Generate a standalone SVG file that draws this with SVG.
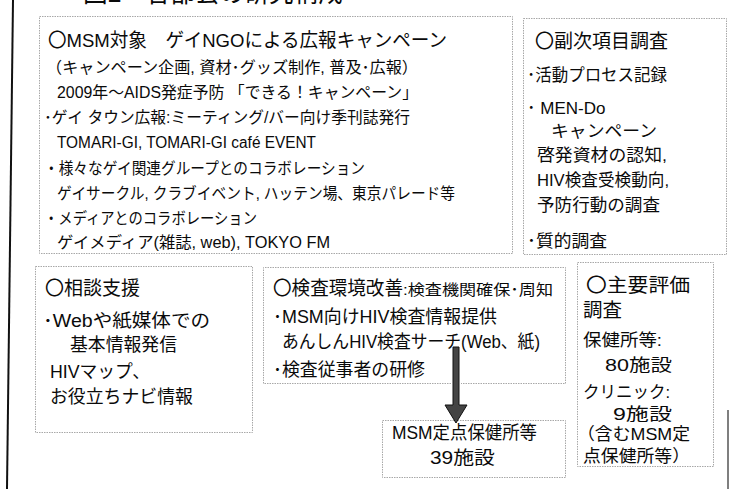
<svg xmlns="http://www.w3.org/2000/svg" width="730" height="489" viewBox="0 0 730 489">
<style>
.box{fill:none;stroke:#a8a8a8;stroke-width:1;stroke-dasharray:1.5 1}
.t{font-family:'Liberation Sans','Noto Sans CJK JP',sans-serif;fill:#0a0a0a}
.h{font-size:19px}
.s{font-size:16px}
.m{font-size:17px}
.l{font-size:18px}
.xs{font-size:15px}
</style>
<rect width="730" height="489" fill="#fff"/>
<g id="frame">
<line x1="13" y1="0" x2="7" y2="489" stroke="#111" stroke-width="2"/>
<line x1="728" y1="410" x2="728" y2="489" stroke="#555" stroke-width="1.5"/>
<text class="t" x="83" y="2" font-size="27" textLength="260" lengthAdjust="spacingAndGlyphs">図2　各部会の研究構成</text>
</g>
<g id="campaign">
<rect class="box" x="39.5" y="16.5" width="473" height="237"/>
<text class="t h" x="48" y="47" textLength="399" lengthAdjust="spacingAndGlyphs">〇MSM対象　ゲイNGOによる広報キャンペーン</text>
<text class="t s" x="46" y="73" textLength="372" lengthAdjust="spacingAndGlyphs">（キャンペーン企画, 資材･グッズ制作, 普及･広報）</text>
<text class="t s" x="57" y="98" textLength="361" lengthAdjust="spacingAndGlyphs">2009年～AIDS発症予防 「できる！キャンペーン」</text>
<text class="t s" x="44" y="123" textLength="366" lengthAdjust="spacingAndGlyphs">･ゲイ タウン広報:ミーティング/バー向け季刊誌発行</text>
<text class="t s" x="57" y="148" textLength="259" lengthAdjust="spacingAndGlyphs">TOMARI-GI, TOMARI-GI café EVENT</text>
<text class="t s" x="44" y="174" textLength="321" lengthAdjust="spacingAndGlyphs">・様々なゲイ関連グループとのコラボレーション</text>
<text class="t s" x="57" y="199" textLength="398" lengthAdjust="spacingAndGlyphs">ゲイサークル, クラブイベント, ハッテン場、東京パレード等</text>
<text class="t s" x="44" y="224" textLength="213" lengthAdjust="spacingAndGlyphs">・メディアとのコラボレーション</text>
<text class="t s" x="57" y="248" textLength="273" lengthAdjust="spacingAndGlyphs">ゲイメディア(雑誌, web), TOKYO FM</text>
</g>
<g id="secondary">
<rect class="box" x="523.5" y="18.5" width="203" height="236"/>
<text class="t h" x="535" y="48" textLength="133" lengthAdjust="spacingAndGlyphs">〇副次項目調査</text>
<text class="t m" x="527" y="81" textLength="140" lengthAdjust="spacingAndGlyphs">･活動プロセス記録</text>
<text class="t m" x="527" y="114">･ MEN-Do</text>
<text class="t m" x="551" y="137" textLength="106" lengthAdjust="spacingAndGlyphs">キャンペーン</text>
<text class="t m" x="537" y="161" textLength="130" lengthAdjust="spacingAndGlyphs">啓発資材の認知,</text>
<text class="t m" x="537" y="186" textLength="132" lengthAdjust="spacingAndGlyphs">HIV検査受検動向,</text>
<text class="t m" x="537" y="211" textLength="123" lengthAdjust="spacingAndGlyphs">予防行動の調査</text>
<text class="t m" x="527" y="247" textLength="80" lengthAdjust="spacingAndGlyphs">･質的調査</text>
</g>
<g id="consult">
<rect class="box" x="35.5" y="266.5" width="217" height="166"/>
<text class="t h" x="45" y="295" textLength="95" lengthAdjust="spacingAndGlyphs">〇相談支援</text>
<text class="t l" x="43" y="327" textLength="167" lengthAdjust="spacingAndGlyphs">･Webや紙媒体での</text>
<text class="t l" x="70" y="351" textLength="107" lengthAdjust="spacingAndGlyphs">基本情報発信</text>
<text class="t l" x="50" y="378" textLength="100" lengthAdjust="spacingAndGlyphs">HIVマップ、</text>
<text class="t l" x="50" y="403" textLength="143" lengthAdjust="spacingAndGlyphs">お役立ちナビ情報</text>
</g>
<g id="testing">
<path class="box" d="M263.5 383.5 V267.5 H565.5 V383.5 H461 M451 383.5 H263.5"/>
<text class="t h" x="273" y="295" textLength="130" lengthAdjust="spacingAndGlyphs">〇検査環境改善</text>
<text class="t xs" x="403" y="295" textLength="150" lengthAdjust="spacingAndGlyphs">:検査機関確保･周知</text>
<text class="t l" x="273" y="323" textLength="224" lengthAdjust="spacingAndGlyphs">･MSM向けHIV検査情報提供</text>
<text class="t l" x="282" y="348" textLength="258" lengthAdjust="spacingAndGlyphs">あんしんHIV検査サーチ(Web、紙)</text>
<text class="t l" x="273" y="376" textLength="152" lengthAdjust="spacingAndGlyphs">･検査従事者の研修</text>
</g>
<g id="main-eval">
<rect class="box" x="577.5" y="262.5" width="136" height="204"/>
<text class="t h" x="586" y="292" textLength="104" lengthAdjust="spacingAndGlyphs">〇主要評価</text>
<text class="t h" x="583" y="317" textLength="39" lengthAdjust="spacingAndGlyphs">調査</text>
<text class="t m" x="583" y="346" textLength="79" lengthAdjust="spacingAndGlyphs">保健所等:</text>
<text class="t m" x="605" y="371" textLength="67" lengthAdjust="spacingAndGlyphs">80施設</text>
<text class="t m" x="583" y="398" textLength="87" lengthAdjust="spacingAndGlyphs">クリニック:</text>
<text class="t m" x="613" y="420" textLength="59" lengthAdjust="spacingAndGlyphs">9施設</text>
<text class="t m" x="577" y="440" textLength="113" lengthAdjust="spacingAndGlyphs">（含むMSM定</text>
<text class="t m" x="583" y="462" textLength="107" lengthAdjust="spacingAndGlyphs">点保健所等）</text>
</g>
<g id="sentinel">
<rect class="box" x="382.5" y="420.5" width="183" height="57"/>
<text class="t l" x="392" y="439" textLength="145" lengthAdjust="spacingAndGlyphs">MSM定点保健所等</text>
<text class="t l" x="430" y="464" textLength="65" lengthAdjust="spacingAndGlyphs">39施設</text>
</g>
<g id="connectors">
<path d="M453 347 H459 V405 H467 L456 423 L445 405 H453 Z" fill="#444" stroke="#111" stroke-width="1"/>
</g>
</svg>
